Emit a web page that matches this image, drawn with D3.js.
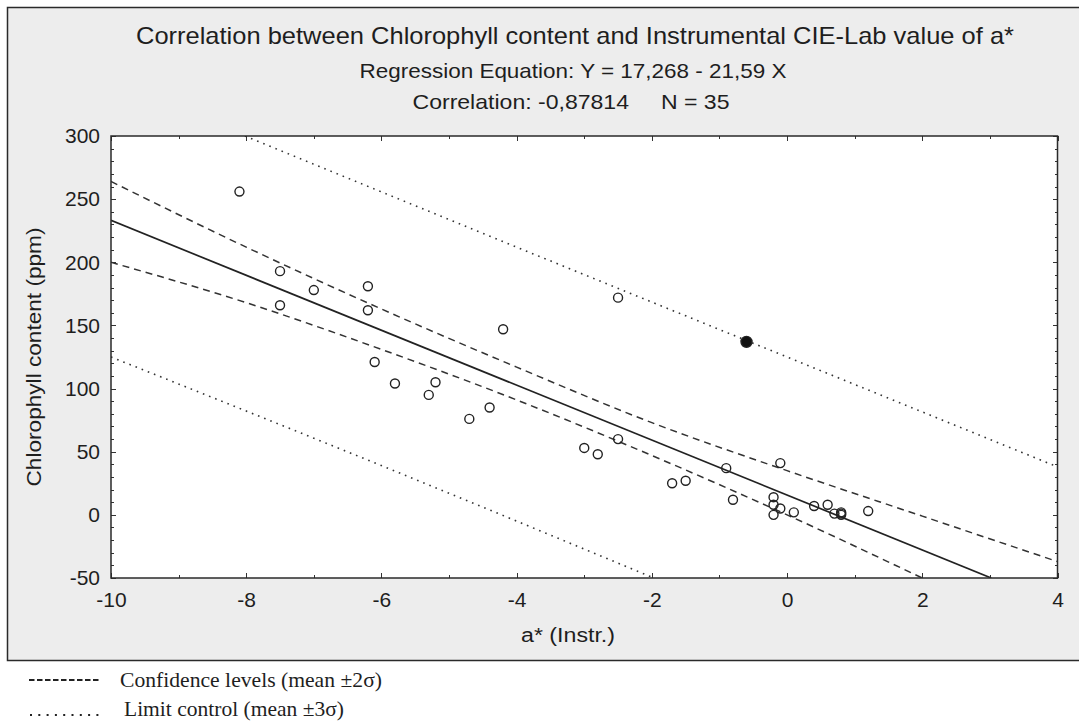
<!DOCTYPE html>
<meta charset="utf-8">
<style>
    body {
        margin: 0;
        background-color: #ffffff;
    }

    svg {
        font-family: "Liberation Sans", Arial, sans-serif;
    }

    .axis path {
        display: none;
    }

    .axis line {
        stroke: #333;
        stroke-width: 1;
        shape-rendering: crispEdges;
    }

    .axis text {
        font-size: 21px;
        fill: #1e1e1e;
    }

    .legend text {
        font-family: "Liberation Serif", "Times New Roman", serif;
        fill: #1e1e1e;
    }
</style>
<body>
<script src="https://cdn.jsdelivr.net/npm/d3@7"></script>
<script>

    // values
    const pointX = [-8.1, -7.5, -7.5, -7.0, -6.2, -6.2, -6.1, -5.8, -5.3, -5.2, -4.7, -4.4, -4.2,
        -2.5, -3.0, -2.8, -2.5, -1.7, -1.5, -0.9, -0.8, -0.1, -0.2, -0.2, -0.1, -0.2,
        0.1, 0.4, 0.6, 0.7, 0.8, 0.8, 0.8, 1.2, -0.6];
    const pointY = [256, 193, 166, 178, 181, 162, 121, 104, 95, 105, 76, 85, 147,
        172, 53, 48, 60, 25, 27, 37, 12, 41, 14, 8, 5, 0,
        2, 7, 8, 1, 2, 0, 1, 3, 137];
    // last point is drawn filled
    const pointFilled = pointX.map((d, i) => i === pointX.length - 1);

    // regression line Y = 17,268 - 21,59 X
    const regX = [-10, 3.02];
    const regY = [233.2, -50];

    // confidence levels (mean +- 2 sigma), dashed
    const upper2X = [-10, -8, -6, -4, -2, 0, 2, 4];
    const upper2Y = [264, 212, 163, 117, 73, 35, -1, -37];
    const lower2X = [-10, -8, -6, -4, -2, 0, 2];
    const lower2Y = [200, 168, 131, 91, 47, 0, -50];

    // limit control (mean +- 3 sigma), dotted
    const upper3X = [-8.02, -4, 0, 4];
    const upper3Y = [300, 212, 125, 38];
    const lower3X = [-10, -6, -1.97];
    const lower3Y = [125, 39, -50];

    const xTicks = [-10, -8, -6, -4, -2, 0, 2, 4];
    const yTicks = [-50, 0, 50, 100, 150, 200, 250, 300];

    const width = 1079;
    const height = 721;

    const svg = d3.select('body')
        .append('svg')
        .attr('width', width)
        .attr('height', height);

    // grey panel
    svg.append('rect')
        .attr('x', 7.5)
        .attr('y', 7.5)
        .attr('width', 1090)
        .attr('height', 653)
        .style('fill', '#ededed')
        .style('stroke', '#2a2a2a')
        .style('stroke-width', 1.5);

    const x = d3.scaleLinear().domain([-10, 4]).range([111, 1057.5]);
    const y = d3.scaleLinear().domain([-50, 300]).range([578, 136]);

    // plot area
    svg.append('rect')
        .attr('x', x(-10))
        .attr('y', y(300))
        .attr('width', x(4) - x(-10))
        .attr('height', y(-50) - y(300))
        .style('fill', '#ffffff');

    svg.append('clipPath')
        .attr('id', 'plotclip')
        .append('rect')
        .attr('x', x(-10))
        .attr('y', y(300))
        .attr('width', x(4) - x(-10))
        .attr('height', y(-50) - y(300));

    // minor ticks, inside, all four sides
    const xMinor = d3.range(-10, 4.01, 1);
    const yMinor = d3.range(-50, 300.01, 10);

    svg.append('g').attr('class', 'axis')
        .attr('transform', 'translate(0,' + y(-50) + ')')
        .call(d3.axisBottom(x).tickValues(xMinor).tickSize(-3).tickFormat(''));
    svg.append('g').attr('class', 'axis')
        .attr('transform', 'translate(0,' + y(300) + ')')
        .call(d3.axisTop(x).tickValues(xMinor).tickSize(-3).tickFormat(''));
    svg.append('g').attr('class', 'axis')
        .attr('transform', 'translate(' + x(-10) + ',0)')
        .call(d3.axisLeft(y).tickValues(yMinor).tickSize(-3).tickFormat(''));
    svg.append('g').attr('class', 'axis')
        .attr('transform', 'translate(' + x(4) + ',0)')
        .call(d3.axisRight(y).tickValues(yMinor).tickSize(-3).tickFormat(''));

    // major ticks with labels
    svg.append('g').attr('class', 'axis')
        .attr('transform', 'translate(0,' + y(-50) + ')')
        .call(d3.axisBottom(x).tickValues(xTicks).tickSize(-5).tickPadding(14))
        .selectAll('text').text(d => String(d));
    svg.append('g').attr('class', 'axis')
        .attr('transform', 'translate(' + x(-10) + ',0)')
        .call(d3.axisLeft(y).tickValues(yTicks).tickSize(-5).tickPadding(11))
        .selectAll('text').text(d => String(d));
    svg.append('g').attr('class', 'axis')
        .attr('transform', 'translate(' + x(4) + ',0)')
        .call(d3.axisRight(y).tickValues(yTicks).tickSize(-5).tickFormat(''));
    svg.append('g').attr('class', 'axis')
        .attr('transform', 'translate(0,' + y(300) + ')')
        .call(d3.axisTop(x).tickValues(xTicks).tickSize(-5).tickFormat(''));

    const plot = svg.append('g').attr('clip-path', 'url(#plotclip)');

    const line = d3.line()
        .x(d => x(d[0]))
        .y(d => y(d[1]))
        .curve(d3.curveMonotoneX);

    const zip = (a, b) => a.map((d, i) => [d, b[i]]);

    // limit control, dotted
    [zip(upper3X, upper3Y), zip(lower3X, lower3Y)].forEach(pts => {
        plot.append('path')
            .datum(pts)
            .attr('d', line)
            .style('fill', 'none')
            .style('stroke', '#333')
            .style('stroke-width', 1.6)
            .style('stroke-dasharray', '1.6,5');
    });

    // confidence levels, dashed
    [zip(upper2X, upper2Y), zip(lower2X, lower2Y)].forEach(pts => {
        plot.append('path')
            .datum(pts)
            .attr('d', line)
            .style('fill', 'none')
            .style('stroke', '#333')
            .style('stroke-width', 1.5)
            .style('stroke-dasharray', '7,5');
    });

    // regression line
    plot.append('path')
        .datum(zip(regX, regY))
        .attr('d', line)
        .style('fill', 'none')
        .style('stroke', '#222')
        .style('stroke-width', 1.7);

    // points
    svg.append('g')
        .selectAll('circle')
        .data(zip(pointX, pointY))
        .enter().append('circle')
        .attr('cx', d => x(d[0]))
        .attr('cy', d => y(d[1]))
        .attr('r', (d, i) => pointFilled[i] ? 5.5 : 4.5)
        .style('fill', (d, i) => pointFilled[i] ? '#111' : 'none')
        .style('stroke', '#222')
        .style('stroke-width', 1.4);

    // frame
    svg.append('rect')
        .attr('x', x(-10))
        .attr('y', y(300))
        .attr('width', x(4) - x(-10))
        .attr('height', y(-50) - y(300))
        .style('fill', 'none')
        .style('stroke', '#2a2a2a')
        .style('stroke-width', 1.5);

    // titles
    svg.append('text')
        .attr('x', 575)
        .attr('y', 44)
        .attr('text-anchor', 'middle')
        .attr('textLength', 878)
        .attr('lengthAdjust', 'spacingAndGlyphs')
        .style('font-size', '24px')
        .style('fill', '#1e1e1e')
        .text('Correlation between Chlorophyll content and Instrumental CIE-Lab value of a*');

    svg.append('text')
        .attr('x', 573)
        .attr('y', 78)
        .attr('text-anchor', 'middle')
        .attr('textLength', 427)
        .attr('lengthAdjust', 'spacingAndGlyphs')
        .style('font-size', '21px')
        .style('fill', '#1e1e1e')
        .text('Regression Equation: Y = 17,268 - 21,59 X');

    svg.append('text')
        .attr('x', 571)
        .attr('y', 109)
        .attr('text-anchor', 'middle')
        .attr('textLength', 317)
        .attr('lengthAdjust', 'spacingAndGlyphs')
        .style('font-size', '21px')
        .style('fill', '#1e1e1e')
        .style('white-space', 'pre')
        .text('Correlation: -0,87814     N = 35');

    // axis titles
    svg.append('text')
        .attr('transform', 'translate(41,357) rotate(-90)')
        .attr('text-anchor', 'middle')
        .attr('textLength', 259)
        .attr('lengthAdjust', 'spacingAndGlyphs')
        .style('font-size', '20px')
        .style('fill', '#1e1e1e')
        .text('Chlorophyll content (ppm)');

    svg.append('text')
        .attr('x', 568)
        .attr('y', 642)
        .attr('text-anchor', 'middle')
        .attr('textLength', 94)
        .attr('lengthAdjust', 'spacingAndGlyphs')
        .style('font-size', '20px')
        .style('fill', '#1e1e1e')
        .text('a* (Instr.)');

    // legend below the panel
    const legend = svg.append('g').attr('class', 'legend');

    legend.append('line')
        .attr('x1', 29).attr('x2', 101)
        .attr('y1', 680).attr('y2', 680)
        .style('stroke', '#222')
        .style('stroke-width', 2.2)
        .style('stroke-dasharray', '5.5,2.5');

    legend.append('text')
        .attr('x', 120)
        .attr('y', 687)
        .attr('textLength', 262)
        .attr('lengthAdjust', 'spacingAndGlyphs')
        .style('font-size', '21px')
        .text('Confidence levels (mean \u00b12\u03c3)');

    legend.append('line')
        .attr('x1', 30).attr('x2', 101)
        .attr('y1', 715).attr('y2', 715)
        .style('stroke', '#222')
        .style('stroke-width', 2)
        .style('stroke-dasharray', '2,6.3');

    legend.append('text')
        .attr('x', 124)
        .attr('y', 716)
        .attr('textLength', 220)
        .attr('lengthAdjust', 'spacingAndGlyphs')
        .style('font-size', '21px')
        .text('Limit control (mean \u00b13\u03c3)');

</script>
</body>
</html>
